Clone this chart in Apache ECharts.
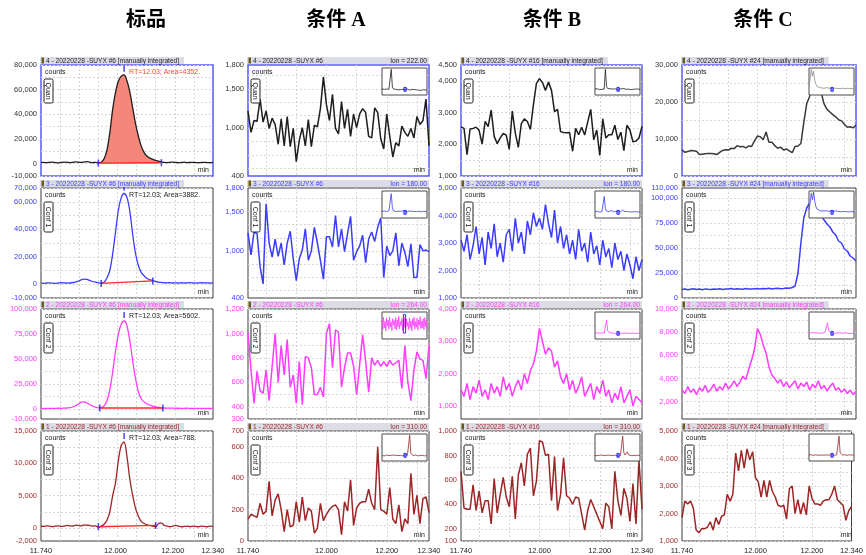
<!DOCTYPE html>
<html>
<head>
<meta charset="utf-8">
<script src="https://cdn.jsdelivr.net/npm/echarts@6/dist/echarts.min.js"></script>
<style>
  html, body { margin: 0; padding: 0; background: #fff; }
  #chart { width: 866px; height: 555px; }
</style>
</head>
<body>
<div id="chart"></div>
<script>
// Scan times (min), one sample every 0.01 min
const scanTimes = Array.from({ length: 61 }, (_, i) => Math.round((11.74 + i * 0.01) * 100) / 100);
const columnTitles = ['标品', '条件 A', '条件 B', '条件 C'];
const xTickLabels = [11.74, 12.0, 12.2, 12.34];

// 标品: quantifier and three qualifier ions
const stdQuan = [900, 1000, 800, 1100, 1200, 900, 700, 1000, 1300, 1100, 900, 1000, 1400, 1200, 1000, 1300, 1600, 1200, 900, 1000,
  800, 1200, 4000, 11000, 25000, 44000, 58000, 67000, 71000, 72000, 67000, 58000, 45000, 32000, 22000, 14000, 9000, 6000, 4500, 3500, 2700, 2000, 1500,
  1000, 900, 1100, 1300, 1000, 800, 1000, 1200, 900, 1000, 1100, 900, 800, 1000, 1100, 900, 800, 1000];
const stdConf1 = [800, 700, 900, 1000, 800, 700, 900, 1100, 1000, 800, 900, 1200, 1500, 2200, 3200,
  3800, 3600, 2800, 2000, 1500, 1000, 800, 1500, 4500, 10000, 22000, 38000, 54000, 63000, 66000, 63000, 53000, 36000, 22000, 13500, 8500, 6000, 4200, 3300, 2600, 2000,
  1600, 1300, 1100, 1000, 1200, 900, 1000, 800, 1100, 900, 1000, 1200, 900, 800, 1000, 1100, 900, 1000, 800, 900];
const stdConf2 = [500, 400, 600, 500, 700, 600, 800, 700, 900, 1000, 1300, 2000, 3000, 4800,
  6800, 7200, 6000, 4500, 3000, 1800, 1200, 1500, 3000, 8000, 19000, 37000, 58000, 75000, 85000, 88000, 83000, 68000, 48000, 30000, 17000, 10000, 7000, 5000, 3800, 2800, 2000, 1500, 1200,
  1000, 900, 800, 900, 700, 800, 600, 700, 800, 600, 500, 700, 600, 500, 600, 700, 500, 600];
const stdConf3 = [300, 250, 350, 300, 200, 300, 350, 250, 300, 400, 350, 300, 450, 400, 350, 500, 450, 400, 300, 350,
  100, 300, 600, 1200, 2500, 5000, 7000, 10500, 12800, 13300, 11000, 7500, 5000, 3000, 1800, 1000, 700, 500, 400, 300, 200, 700, 800,
  400, 300, 200, 300, 400, 300, 200, 250, 300, 200, 300, 250, 200, 300, 250, 200, 300, 250];

// 条件 A
const condAQuan = [1220, 950, 1100, 1090, 1370, 1080, 1220, 1000, 1130, 1050, 800, 1120, 780, 1150, 770, 1000, 580, 850, 1010, 780,
  1110, 770, 1040, 1020, 1250, 1650, 1300, 1100, 1430, 1000, 930, 1340, 1000, 1240, 900, 1180, 1010, 1180, 1250, 1200,
  900, 880, 1260, 1200, 870, 740, 1180, 900, 640, 820, 780, 1030, 950, 900, 1000, 880, 1150, 1050, 1100, 1370, 780];
const condAConf1 = [1230, 950, 1240, 1220, 800, 580, 1600, 1100, 920, 1150, 930, 1100, 820, 1100, 1250, 900, 620, 900, 1010, 1280,
  880, 1000, 1300, 1100, 880, 640, 1180, 1180, 1050, 1450, 1050, 1280, 990, 1220, 1440, 880, 990, 1060, 1200, 850,
  1150, 1240, 1120, 1300, 1420, 660, 1060, 940, 1000, 1230, 810, 1100, 980, 800, 1090, 660, 660, 1080, 1000, 1010, 990];
const condAConf2 = [1010, 700, 430, 690, 530, 510, 700, 450, 730, 1000, 600, 900, 660, 950, 560, 660, 430, 770, 420, 810,
  800, 720, 500, 500, 560, 480, 1000, 1080, 720, 1030, 1010, 560, 720, 840, 840, 730, 500, 740, 990, 770,
  520, 800, 740, 780, 730, 770, 730, 780, 740, 760, 780, 550, 900, 600, 450, 700, 850, 790, 780, 630, 900];
const condAConf3 = [140, 170, 160, 150, 240, 170, 190, 380, 160, 260, 300, 200, 60, 200, 90, 100, 250, 120, 280, 130,
  210, 190, 50, 80, 240, 130, 170, 200, 220, 230, 200, 40, 250, 190, 390, 100, 210, 240, 250, 250,
  330, 240, 200, 600, 200, 190, 170, 340, 140, 110, 230, 60, 140, 110, 430, 170, 290, 110, 270, 280, 180];

// 条件 B
const condBQuan = [2550, 2500, 1670, 2480, 2500, 2540, 2440, 2010, 2720, 2560, 3080, 2250, 2020, 2200, 2340, 2290, 1840, 3050, 2350, 1900,
  2650, 2800, 2720, 2470, 3240, 3920, 4070, 3950, 3700, 3960, 3700, 3030, 3100, 2400, 2370, 2360, 2370, 1780, 2500, 2300,
  2540, 2290, 2700, 3100, 2140, 2450, 1650, 2800, 2200, 2300, 2300, 2600, 2150, 2380, 1800, 2600, 2450, 2080, 2100, 2200, 2560];
const condBConf1 = [3100, 2700, 3300, 2400, 2900, 3600, 2600, 3200, 2200, 3400, 2800, 3700, 2500, 3000, 2300, 3300, 3500, 2700, 3900, 3000,
  3400, 2600, 3800, 3300, 4100, 3600, 3900, 3500, 4400, 3700, 3200, 4200, 3000, 3600, 2800, 3300, 2600, 3100, 2400, 3500,
  2700, 3000, 2300, 3400, 2600, 2900, 2200, 3100, 2500, 2800, 2100, 3000, 2400, 2700, 2000, 2600, 2200, 1700, 2500, 2000, 2400];
const condBConf2 = [1500, 1300, 1700, 1200, 1600, 1400, 1800, 1300, 1500, 1200, 1700, 1400, 1600, 1300, 1900, 1500, 1700, 1300, 1600, 1800,
  1500, 2000, 1700, 2100, 2300, 2700, 3400, 3000, 2600, 2800, 2700, 2200, 2400, 1900, 1700, 2000, 1500, 1800, 1400, 1600,
  1900, 1300, 1500, 1700, 1200, 1600, 1400, 1800, 1300, 1500, 1100, 1400, 1200, 1600, 1100, 1300, 1500, 1000, 1300, 1200, 1100];
const condBConf3 = [670, 370, 360, 360, 560, 350, 510, 330, 430, 430, 240, 610, 330, 480, 620, 460, 380, 630, 280, 640,
  740, 550, 810, 860, 470, 590, 920, 910, 800, 810, 430, 790, 350, 480, 780, 470, 450, 400, 460, 450,
  320, 190, 350, 440, 380, 320, 260, 200, 410, 380, 200, 670, 430, 310, 530, 450, 260, 570, 240, 760, 360];

// 条件 C
const condCQuan = [7100, 6400, 6600, 6900, 6800, 6700, 5800, 5900, 6000, 6100, 6100, 6000, 5800, 6400, 6900, 7100, 7000, 7500, 7400, 8200,
  7900, 8000, 7600, 8100, 8000, 9500, 10800, 10600, 9800, 11900, 9100, 9100, 8200, 7500, 7800, 7000, 7300, 6800, 6300, 8000,
  8100, 8800, 14500, 19500, 21500, 26500, 28000, 25500, 22500, 19500, 18000, 17300, 16600, 16000, 15200, 14900, 14000, 13200, 13300, 13000, 13800];
const condCConf1 = [8500, 9000, 8200, 8800, 9200, 8600, 8900, 8300, 9100, 8700, 8400, 9000, 8800, 9300, 8600, 9100, 8900, 9400, 8700, 9200,
  9000, 8800, 9500, 9100, 8900, 9300, 9600, 9000, 9400, 9200, 9700, 9100, 9500, 9800, 9300, 9600, 10000, 9800, 10500, 12000,
  25000, 55000, 80000, 90000, 95000, 94000, 90000, 86000, 82000, 78000, 74000, 71000, 66000, 63000, 57000, 55000, 49000, 47000, 42000, 40000, 37000];
const condCConf2 = [3000, 2700, 3300, 2800, 3100, 2600, 3200, 2900, 3400, 2800, 3100, 3500, 2900, 3300, 3000, 3600, 3100, 3400, 3800, 3300,
  3700, 4200, 3900, 4800, 5600, 6500, 8300, 7800, 6900, 6200, 5000, 4300, 4000, 3600, 3900, 3300, 3700, 3200, 3500, 3800,
  3100, 3600, 3300, 3700, 3000, 3500, 3200, 3800, 3100, 3400, 2900, 3300, 3600, 3000, 3200, 2800, 3100, 2700, 3000, 2600, 2900];
const condCConf3 = [1850, 2450, 2350, 2450, 2200, 1400, 1300, 1450, 1450, 1500, 1700, 1400, 1850, 1600, 1900, 1950, 2700, 2450, 2700, 4200,
  3550, 4300, 3650, 4350, 3950, 4250, 3300, 3150, 2600, 3200, 2600, 3200, 2800, 2600, 2300, 2250, 2300, 1800, 2900, 3000,
  2000, 2500, 1980, 2400, 1950, 3000, 2550, 2350, 2350, 2300, 2450, 2500, 2500, 2700, 3000, 2500, 2400, 2300, 1750, 2100, 2250];

// Integration results for the 标品 peaks (RT, area, start/end time and baseline counts)
const stdRT = 12.03;
const stdAreas = [4352, 3882, 5602, 788];
const stdIntStart = [11.94, 11.95, 11.945, 11.94];
const stdIntEnd = [12.16, 12.13, 12.165, 12.14];
const stdBaseStart = [500, 600, 1000, 200];
const stdBaseEnd = [800, 2400, 1000, 400];

// Full-run overview traces shown in the small insets (relative intensity, %)
const insetAQuan = [22, 20, 21, 19, 22, 20, 21, 23, 95, 30, 22, 20, 21, 22, 19, 21, 20, 22, 21, 20, 19, 21, 22, 20, 18, 20, 21, 19, 20, 18, 19, 20, 18, 19, 17, 18, 20, 19, 18, 19];
const insetAConf1 = [25, 24, 26, 25, 24, 26, 27, 25, 90, 38, 26, 25, 24, 26, 25, 23, 25, 24, 26, 25, 24, 25, 23, 24, 26, 24, 25, 23, 24, 25, 24, 23, 25, 24, 23, 24, 25, 23, 24, 25];
const insetAConf2 = [72, 34, 80, 41, 66, 30, 77, 48, 70, 36, 82, 44, 63, 31, 75, 52, 68, 38, 79, 33, 71, 45, 84, 37, 65, 50, 76, 32, 69, 43,
  81, 39, 74, 47, 62, 35, 78, 42, 67, 30, 73, 49, 80, 36, 64, 44, 77, 33, 70, 51, 83, 38, 66, 41, 75, 34, 79, 46, 68, 40];
const insetAConf3 = [20, 21, 19, 20, 22, 21, 20, 19, 21, 20, 22, 20, 21, 19, 20, 22, 21, 20, 19, 21, 22, 20, 21, 24, 95, 28, 22, 20, 21, 22, 20, 19, 21, 20, 22, 21, 20, 19, 21, 20];
const insetBQuan = [22, 21, 23, 22, 20, 22, 21, 23, 22, 95, 32, 24, 22, 23, 21, 22, 20, 23, 22, 21, 24, 22, 21, 23, 30, 24, 22, 21, 23, 22, 21, 20, 22, 21, 23, 22, 21, 22, 20, 21];
const insetBConf1 = [24, 23, 25, 24, 22, 24, 23, 26, 80, 34, 26, 25, 23, 24, 28, 24, 23, 25, 24, 23, 25, 24, 23, 26, 29, 25, 24, 23, 24, 22, 23, 24, 22, 23, 24, 22, 23, 24, 22, 23];
const insetBConf2 = [22, 21, 23, 22, 21, 22, 23, 21, 22, 24, 70, 30, 23, 22, 21, 23, 22, 21, 22, 20, 21, 22, 23, 21, 27, 22, 21, 22, 20, 21, 22, 21, 20, 22, 21, 20, 21, 22, 20, 21];
const insetBConf3 = [20, 21, 20, 19, 21, 20, 22, 21, 20, 19, 21, 20, 22, 21, 20, 19, 21, 20, 21, 20, 19, 21, 20, 22, 92, 30, 22, 21, 34, 23, 21, 20, 21, 20, 19, 21, 20, 21, 20, 21];
const insetCQuan = [35, 60, 95, 70, 88, 55, 40, 32, 30, 28, 27, 26, 27, 25, 26, 27, 25, 26, 25, 24, 26, 25, 24, 25, 26, 24, 25, 24, 23, 25, 24, 23, 24, 25, 23, 24, 23, 24, 22, 23];
const insetCConf1 = [30, 55, 92, 68, 96, 62, 42, 33, 29, 28, 27, 26, 27, 26, 25, 27, 26, 25, 24, 26, 25, 24, 25, 26, 24, 25, 24, 23, 25, 24, 23, 24, 25, 23, 24, 23, 22, 24, 23, 22];
const insetCConf2 = [22, 21, 23, 22, 24, 23, 22, 21, 23, 22, 21, 23, 22, 24, 26, 30, 60, 32, 25, 23, 22, 21, 23, 22, 24, 22, 21, 23, 22, 21, 22, 23, 21, 22, 21, 20, 22, 21, 20, 21];
const insetCConf3 = [22, 21, 23, 22, 21, 22, 23, 22, 21, 23, 22, 21, 22, 23, 22, 21, 22, 23, 22, 21, 23, 22, 21, 22, 23, 26, 92, 30, 24, 22, 21, 23, 22, 21, 22, 23, 21, 22, 21, 22];

// Ion labels per column (null: the title shows the integration state instead)
const sampleIds = ['#6', '#6', '#16', '#24'];
const ionLabels = [
  [null, null, null, null],
  ['222.00', '180.00', '264.00', '310.00'],
  [null, '180.00', '264.00', '310.00'],
  [null, null, null, null]
];
const ionNames = ['Quan', 'Conf 1', 'Conf 2', 'Conf 3'];

// Axis ranges and labelled values
const yRanges = [
  [[-10000, 80000], [-10000, 70000], [-10000, 100000], [-2000, 15000]],
  [[400, 1800], [400, 1800], [300, 1200], [0, 700]],
  [[1000, 4500], [1000, 5000], [600, 4000], [100, 1000]],
  [[0, 30000], [0, 110000], [500, 10000], [1000, 5000]]
];
const yLabels = [
  [[-10000, 0, 20000, 40000, 60000, 80000], [-10000, 0, 20000, 40000, 60000, 70000], [-10000, 0, 25000, 50000, 75000, 100000], [-2000, 0, 5000, 10000, 15000]],
  [[400, 1000, 1500, 1800], [400, 1000, 1500, 1800], [300, 400, 600, 800, 1000, 1200], [0, 200, 400, 600, 700]],
  [[1000, 2000, 3000, 4000, 4500], [1000, 2000, 3000, 4000, 5000], [1000, 2000, 3000, 4000], [100, 200, 400, 600, 800, 1000]],
  [[0, 10000, 20000, 30000], [0, 25000, 50000, 75000, 100000, 110000], [2000, 4000, 6000, 8000, 10000], [1000, 2000, 3000, 4000, 5000]]
];
const yGridStep = [
  [10000, 10000, 12500, 2500],
  [500 / 3, 500 / 3, 100, 100],
  [500, 500, 500, 100],
  [5000, 12500, 1000, 500]
];

const traces = [
  [stdQuan, stdConf1, stdConf2, stdConf3],
  [condAQuan, condAConf1, condAConf2, condAConf3],
  [condBQuan, condBConf1, condBConf2, condBConf3],
  [condCQuan, condCConf1, condCConf2, condCConf3]
];
const insets = [
  null,
  [insetAQuan, insetAConf1, insetAConf2, insetAConf3],
  [insetBQuan, insetBConf1, insetBConf2, insetBConf3],
  [insetCQuan, insetCConf1, insetCConf2, insetCConf3]
];

// ---------- layout & style ----------
const FONT = '"Liberation Sans", Arial, Helvetica, sans-serif';
const colLeft = [41, 248, 461, 682];
const colRight = [213, 429, 642, 856];
const rowTop = [65, 188, 309, 431];
const rowBottom = [176, 298, 419, 541];
const headerX = [146, 336, 552, 763];
const rowColor = ['#1e1e1e', '#3c3cff', '#ff3cff', '#9c2626'];
const labelColor = ['#333333', '#3c3cff', '#ff3cff', '#a03030'];

const measureCtx = document.createElement('canvas').getContext('2d');
function textWidth(t, font) { measureCtx.font = font; return measureCtx.measureText(t).width; }
function gridValues(min, max, step) {
  const out = [];
  for (let k = Math.ceil(min / step - 1e-9); ; k++) {
    const v = k * step;
    if (v > max + 1e-9) break;
    out.push(+v.toFixed(6));
  }
  return out;
}
const fmt = v => Math.round(v).toLocaleString('en-US');

const grids = [], xAxes = [], yAxes = [], series = [], graphics = [];

// column headers
columnTitles.forEach((t, c) => {
  graphics.push({
    type: 'text', x: headerX[c], y: 21, z: 50, silent: true,
    style: { text: t, font: 'bold 20px "Liberation Serif", "Noto Sans CJK SC", serif', fill: '#000', align: 'center', verticalAlign: 'middle' }
  });
});

const titleFont = '6.6px ' + FONT;

for (let c = 0; c < 4; c++) {
  for (let r = 0; r < 4; r++) {
    const L = colLeft[c], R = colRight[c], T = rowTop[r], B = rowBottom[r];
    const g = grids.length;
    grids.push({
      left: L, top: T, width: R - L, height: B - T, show: true, backgroundColor: '#fff',
      borderColor: r === 0 ? '#5a5aff' : '#3a3a3a', borderWidth: r === 0 ? 1.5 : 1, z: 0
    });
    const vLines = c === 0 ? Array.from({ length: 8 }, (_, k) => +(11.74 + (k + 1) * 0.6 / 9).toFixed(5))
      : [11.8, 11.9, 12.0, 12.1, 12.2, 12.3];
    xAxes.push({
      gridIndex: g, type: 'value', min: 11.74, max: 12.34,
      axisLine: { show: false },
      axisTick: { show: false, customValues: vLines },
      splitLine: { show: true, lineStyle: { color: '#d6d6d6', width: 1, type: [2, 2] } },
      axisLabel: r === 3 ? {
        show: true, customValues: xTickLabels, formatter: v => v.toFixed(3),
        fontSize: 7.5, fontFamily: FONT, color: '#222', margin: 6
      } : { show: false }
    });
    const [ymin, ymax] = yRanges[c][r];
    yAxes.push({
      gridIndex: g, type: 'value', min: ymin, max: ymax,
      axisLine: { show: false },
      axisTick: { show: false, customValues: gridValues(ymin, ymax, yGridStep[c][r]) },
      splitLine: { show: true, lineStyle: { color: '#d6d6d6', width: 1, type: [2, 2] } },
      axisLabel: {
        show: true, customValues: yLabels[c][r], formatter: fmt,
        fontSize: 7.5, fontFamily: FONT, color: labelColor[r], margin: 4
      }
    });

    const values = traces[c][r];
    const lineColor = (r === 0 && c === 3) ? '#3a3a3a' : rowColor[r];
    const pts = scanTimes.map((t, i) => [t, values[i]]);
    series.push({
      type: 'line', xAxisIndex: g, yAxisIndex: g, data: pts, showSymbol: false, animation: false,
      smooth: c === 0 ? 0.3 : false, z: 3,
      lineStyle: { color: lineColor, width: c === 0 ? 1.3 : 1.5 }
    });

    if (c === 0) {
      const s = stdIntStart[r], e = stdIntEnd[r];
      if (r === 0) {
        series.push({
          type: 'line', xAxisIndex: g, yAxisIndex: g, animation: false, smooth: 0.3, showSymbol: false, z: 2,
          data: pts.filter(p => p[0] >= s - 1e-9 && p[0] <= e + 1e-9),
          lineStyle: { width: 0 }, areaStyle: { color: '#f4877a', opacity: 1 }
        });
      }
      series.push({
        type: 'line', xAxisIndex: g, yAxisIndex: g, animation: false, showSymbol: false, z: 4,
        data: [[s, stdBaseStart[r]], [e, stdBaseEnd[r]]],
        lineStyle: { color: '#ff2a2a', width: 1.3 }
      });
      const rtIdx = scanTimes.findIndex(t => Math.abs(t - stdRT) < 1e-6);
      series.push({
        type: 'scatter', xAxisIndex: g, yAxisIndex: g, animation: false, z: 5,
        symbol: 'rect', symbolSize: [1.6, 7],
        itemStyle: { color: '#2222ee' },
        data: [[s, stdBaseStart[r]], [e, stdBaseEnd[r]]]
      });
      series.push({
        type: 'scatter', xAxisIndex: g, yAxisIndex: g, animation: false, z: 5,
        symbol: 'rect', symbolSize: [1.6, 6], symbolOffset: [0, -6],
        itemStyle: { color: '#2222ee' },
        data: [[stdRT, values[rtIdx]]]
      });
      graphics.push({
        type: 'text', x: L + 88, y: T + 7, z: 50, silent: true,
        style: {
          text: 'RT=' + stdRT.toFixed(2) + '; Area=' + stdAreas[r] + '.', font: '7px ' + FONT,
          fill: r === 0 ? '#ff4a3a' : '#222', align: 'left', verticalAlign: 'middle'
        }
      });
    }

    // title bar
    const ion = ionLabels[c][r];
    const title = (4 - r) + ' - 20220228 -SUYX ' + sampleIds[c] + (ion ? '' : ' [manually integrated]');
    const barW = ion ? (R - L) : Math.min(R - L, textWidth(title, titleFont) + 10);
    graphics.push({ type: 'rect', x: L - 1, y: T - 8, z: 40, silent: true, shape: { x: 0, y: 0, width: barW + 1, height: 7 }, style: { fill: '#dcdce6' } });
    graphics.push({ type: 'rect', x: L + 0.5, y: T - 7.5, z: 41, silent: true, shape: { x: 0, y: 0, width: 2.5, height: 6 }, style: { fill: '#6a5a20' } });
    graphics.push({
      type: 'text', x: L + 5, y: T - 4.3, z: 42, silent: true,
      style: { text: title, font: titleFont, fill: rowColor[r], align: 'left', verticalAlign: 'middle' }
    });
    if (ion) {
      graphics.push({
        type: 'text', x: R - 2, y: T - 4.3, z: 42, silent: true,
        style: { text: 'Ion = ' + ion, font: titleFont, fill: rowColor[r], align: 'right', verticalAlign: 'middle' }
      });
    }

    // in-plot captions
    graphics.push({ type: 'text', x: L + 4, y: T + 7, z: 50, silent: true, style: { text: 'counts', font: '7px ' + FONT, fill: '#222', align: 'left', verticalAlign: 'middle' } });
    graphics.push({ type: 'text', x: R - 4, y: B - 6, z: 50, silent: true, style: { text: 'min', font: '7px ' + FONT, fill: '#222', align: 'right', verticalAlign: 'middle' } });
    const boxLen = r === 0 ? 24 : 30;
    graphics.push({
      type: 'group', x: L + 7.5, y: T + 14 + boxLen / 2, rotation: -Math.PI / 2, z: 50, silent: true,
      children: [
        { type: 'rect', shape: { x: -boxLen / 2, y: -4.5, width: boxLen, height: 9, r: 1.5 }, style: { fill: '#fff', stroke: '#222', lineWidth: 1 }, z: 50 },
        { type: 'text', x: 0, y: 0.3, z: 51, style: { text: ionNames[r], font: '7px ' + FONT, fill: '#222', align: 'center', verticalAlign: 'middle' } }
      ]
    });
  }
}

// overview insets (top-right of each 条件 panel)
for (let c = 1; c < 4; c++) {
  for (let r = 0; r < 4; r++) {
    const R = colRight[c], T = rowTop[r];
    const g = grids.length;
    const data = insets[c][r];
    grids.push({
      left: R - 47, top: T + 3, width: 45, height: 27, show: true, backgroundColor: '#fff',
      borderColor: '#4a4a4a', borderWidth: 1, z: 10
    });
    xAxes.push({ gridIndex: g, type: 'value', min: 0, max: data.length - 1, show: false });
    yAxes.push({ gridIndex: g, type: 'value', min: 0, max: 100, show: false });
    const mid = Math.round((data.length - 1) * 0.5);
    const tall = (c === 1 && r === 2);
    series.push({
      type: 'line', xAxisIndex: g, yAxisIndex: g, animation: false, showSymbol: false, z: 12,
      data: data.map((v, i) => [i, v]),
      lineStyle: { color: (r === 0 && c === 3) ? '#8a8a8a' : rowColor[r], width: 0.8 },
      markArea: {
        silent: true, z: 13,
        itemStyle: { color: tall ? 'rgba(0,0,0,0)' : 'rgba(90,90,255,0.55)', borderColor: '#2a2aff', borderWidth: 1 },
        data: [[{ coord: [mid - (tall ? 2 : 1), tall ? 22 : 14] }, { coord: [mid + 1, tall ? 90 : 28] }]]
      }
    });
  }
}

const chart = echarts.init(document.getElementById('chart'), null, { renderer: 'canvas' });
chart.setOption({
  animation: false,
  backgroundColor: '#ffffff',
  grid: grids,
  xAxis: xAxes,
  yAxis: yAxes,
  series: series,
  graphic: graphics
});
</script>
</body>
</html>
